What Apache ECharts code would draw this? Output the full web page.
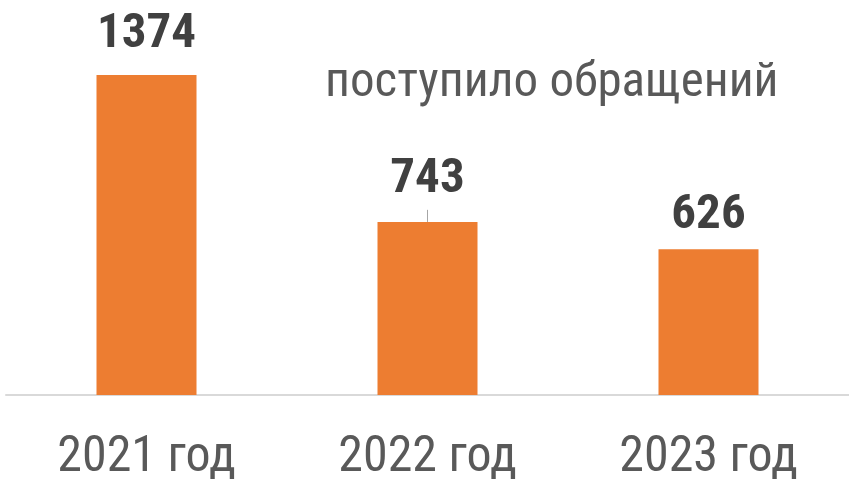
<!DOCTYPE html>
<html>
<head>
<meta charset="utf-8">
<script src="https://cdn.jsdelivr.net/npm/echarts@6/dist/echarts.min.js"></script>
<style>
  html, body { margin: 0; padding: 0; background: #fff; }
  #chart { width: 849px; height: 485px; }
</style>
</head>
<body>
<div id="chart"></div>
<script>
// requests received per year
const years = ["2021 год", "2022 год", "2023 год"];
const received = [1374, 743, 626];
const labelGap = [16, 18, 9];
const titleText = "поступило обращений";

const FONT = "'Liberation Sans Narrow', 'Arial Narrow', 'Roboto Condensed', 'Liberation Sans', sans-serif";

const chart = echarts.init(document.getElementById("chart"), null, { renderer: "canvas" });

chart.setOption({
  animation: false,
  backgroundColor: "#fff",
  title: {
    text: titleText,
    left: 320,
    top: 54,
    textStyle: { fontFamily: FONT, fontSize: 49, fontWeight: "normal", color: "#595959" },
  },
  grid: { left: 6, right: 0, top: 75, bottom: 90 },
  xAxis: {
    type: "category",
    data: years,
    axisLine: { lineStyle: { color: "#d9d9d9", width: 2 } },
    axisTick: { show: false },
    axisLabel: { fontFamily: FONT, fontSize: 50, color: "#595959", margin: 38 },
  },
  yAxis: {
    type: "value",
    min: 0,
    max: 1374,
    show: false,
    splitLine: { show: false },
  },
  series: [
    {
      type: "bar",
      data: received.map((v, i) => ({ value: v, label: { distance: labelGap[i] } })),
      barWidth: 100,
      itemStyle: { color: "#ed7d31" },
      label: {
        show: true,
        position: "top",
        fontFamily: FONT,
        fontSize: 49,
        fontWeight: "bold",
        color: "#404040",
      },
      // short leader line under the 2022 label
      markLine: {
        silent: true,
        symbol: "none",
        label: { show: false },
        lineStyle: { color: "#a6a6a6", width: 1, type: "solid" },
        data: [[{ coord: [years[1], received[1]] }, { coord: [years[1], 795] }]],
      },
    },
  ],
});
</script>
</body>
</html>
